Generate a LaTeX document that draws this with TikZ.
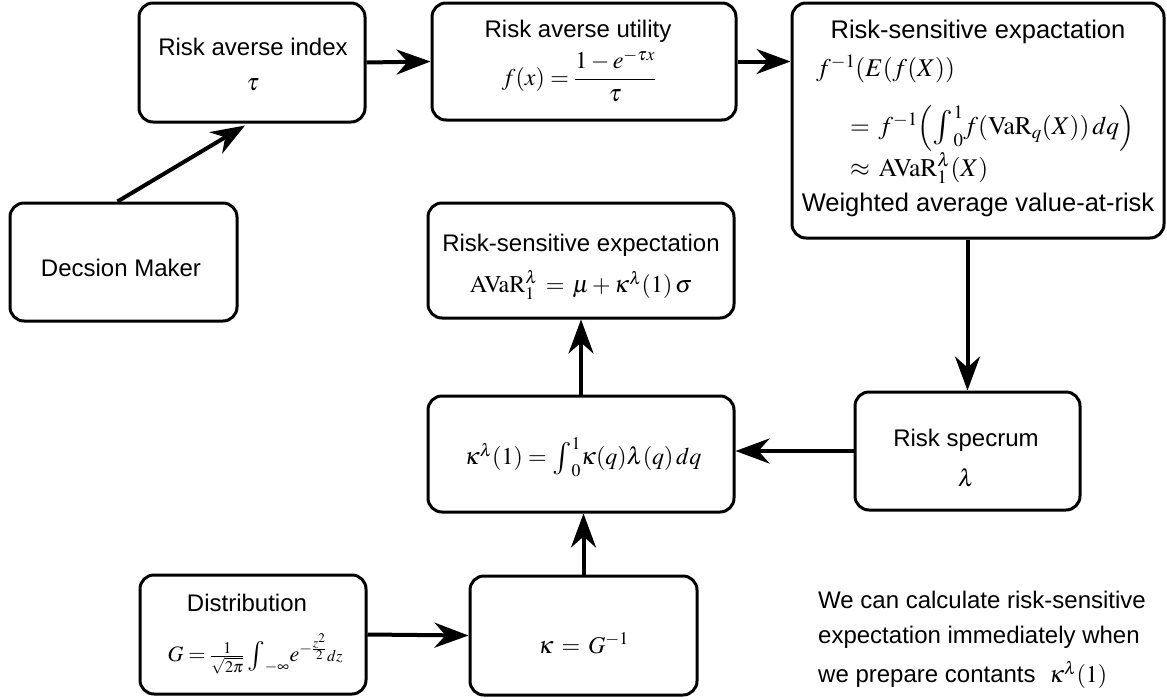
\documentclass[tikz,border=0pt]{standalone}
\usepackage{amsmath}
\usepackage{graphicx}
\usepackage{mathptmx}
\usepackage[no-math]{fontspec}
\setmainfont{Liberation Sans}
\usetikzlibrary{arrows.meta}
\newcommand\bigint{\mathop{\vcenter{\hbox{\scalebox{1.35}{$\int$}}}}\nolimits}
\begin{document}
\begin{tikzpicture}[x=1pt,y=-1pt,
  box/.style={draw, line width=3pt, rounded corners=14pt, inner sep=0pt},
  txt/.style={inner sep=0pt, font=\fontsize{24}{28}\selectfont},
  big/.style={inner sep=0pt, font=\fontsize{25.5}{30}\selectfont},
  arr/.style={line width=4pt, -{Stealth[length=34pt,width=25pt,inset=11pt]}}]
\useasboundingbox (0,0) rectangle (1167,699);
% boxes
\node[box, minimum width=226pt, minimum height=119pt] (idx) at (252,62.5) {};
\node[box, minimum width=304pt, minimum height=117pt] (util) at (584,61.5) {};
\node[box, minimum width=372pt, minimum height=235pt] (rse) at (978,120.5) {};
\node[box, minimum width=227pt, minimum height=118pt] (dm) at (123.5,262) {};
\node[box, minimum width=306pt, minimum height=115pt] (avar) at (581,260.5) {};
\node[box, minimum width=306pt, minimum height=116pt] (kl) at (581,454) {};
\node[box, minimum width=225pt, minimum height=118pt] (spec) at (967.5,451) {};
\node[box, minimum width=226pt, minimum height=119pt] (dist) at (253,634.5) {};
\node[box, minimum width=227pt, minimum height=119pt] (kap) at (583.5,635.5) {};
% texts
\node[txt] (t1) at (253,47) {Risk averse index};
\node[txt] (t1m) at (253,85) {$\tau$};
\node[txt] (t2) at (578,31) {Risk averse utility};
\node[txt] (t2m) at (579,76) {$f(x)=\dfrac{1-e^{-\tau x}}{\tau}$};
\node[big] (t3) at (978,32) {Risk-sensitive expactation};
\node[big, anchor=west] (t3a) at (816,69) {$f^{-1}(E(f(X))$};
\node[big, anchor=west] (t3b) at (850,128) {$=\,f^{-1}\Bigl(\bigint_0^1\! f(\mathrm{VaR}_q(X))\,dq\Bigr)$};
\node[big, anchor=west] (t3c) at (850,168) {$\approx\,\mathrm{AVaR}_1^{\lambda}(X)$};
\node[big] (t3d) at (978,205) {Weighted average value-at-risk};
\node[txt] (t4) at (121,268) {Decsion Maker};
\node[txt] (t5) at (581,245) {Risk-sensitive expectation};
\node[txt] (t5m) at (581,285) {$\mathrm{AVaR}_1^{\lambda}\,=\,\mu+\kappa^{\lambda}(1)\,\sigma$};
\node[txt] (t6m) at (583,457) {$\kappa^{\lambda}(1)=\bigint_0^1\!\kappa(q)\lambda(q)\,dq$};
\node[txt] (t7) at (966,440) {Risk specrum};
\node[txt] (t7m) at (966,478) {$\lambda$};
\node[txt] (t8) at (247,603) {Distribution};
\node[txt, font=\fontsize{22}{26}\selectfont] (t8m) at (255,654) {$G=\frac{1}{\sqrt{2\pi}}\bigint_{-\infty}\! e^{-\frac{z^2}{2}}{\scriptstyle dz}$};
\node[txt] (t9m) at (583.5,643) {$\kappa\,=\,G^{-1}$};
\node[txt, anchor=west] (n1) at (818,600) {We can calculate risk-sensitive};
\node[txt, anchor=west] (n2) at (818,637) {expectation immediately when};
\node[txt, anchor=west] (n3) at (818,675) {we prepare contants~~$\kappa^{\lambda}(1)$};
% arrows
\draw[arr] ([xshift=-6pt]dm.north) -- ([xshift=-7pt,yshift=-2pt]idx.south);
\draw[arr] (idx.east) -- (util.west);
\draw[arr] (util.east) -- (util.east -| rse.west);
\draw[arr] (rse.south -| spec.north) -- (spec.north);
\draw[arr] (spec.west) -- (spec.west -| kl.east);
\draw[arr] (kl.north) -- (avar.south);
\draw[arr] (kap.north) -- (kap.north |- kl.south);
\draw[arr] (dist.east) -- (kap.west);
\end{tikzpicture}
\end{document}
